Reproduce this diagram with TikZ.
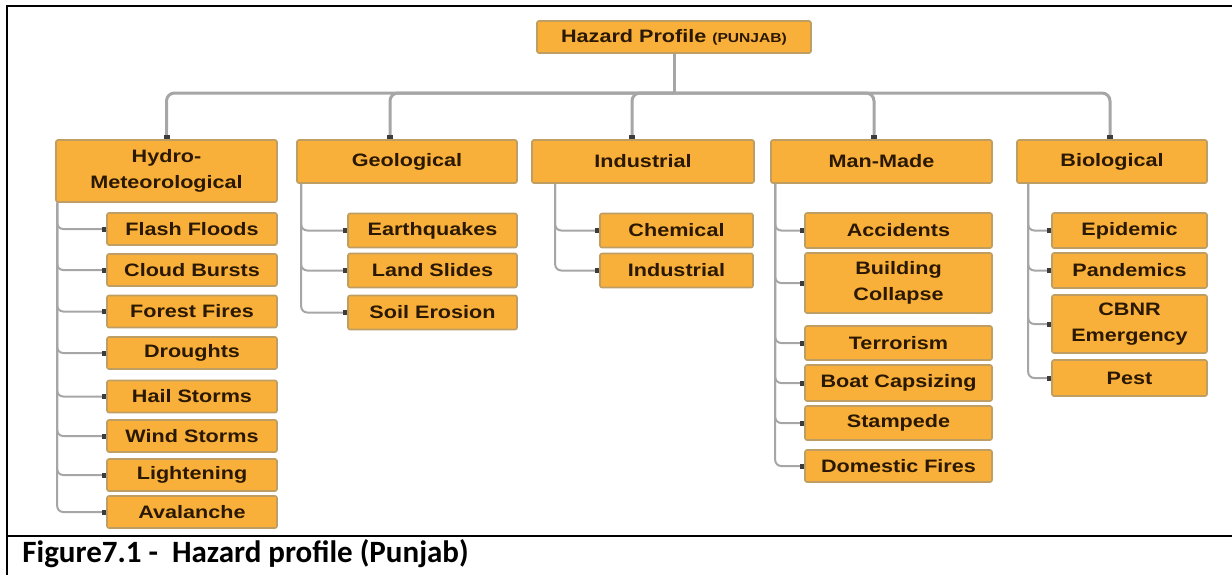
\documentclass[tikz,border=0pt]{standalone}
\usepackage{fontspec}
\setmainfont{Liberation Sans}
\newfontfamily\boxfont[FakeStretch=1.2]{Liberation Sans}
\newfontfamily\captionfont{Carlito}
\usetikzlibrary{arrows.meta}
\definecolor{boxFill}{HTML}{F9B03A}
\definecolor{boxLine}{HTML}{BE9E62}
\definecolor{boxText}{HTML}{2A1800}
\definecolor{linkGray}{HTML}{A6A6A6}
\definecolor{tipGray}{HTML}{3C3C3C}
\begin{document}
\begin{tikzpicture}[ x = 0.5pt, y = -0.5pt,
    hazardBox/.style = { shape=rectangle, rounded corners = 1pt, draw = boxLine, line width = 0.8pt, fill = boxFill, text = boxText, inner sep = 0pt, align = center, font = \boxfont\bfseries\fontsize{9}{13}\selectfont },
    busLink/.style = { draw = linkGray, line width = 1.5pt, rounded corners = 4pt, -{Square[length = 2pt, width = 3pt, color = tipGray]} },
    twigLink/.style = { draw = linkGray, line width = 1pt, rounded corners = 3pt, -{Square[length = 2pt, width = 2.5pt, color = tipGray]} } ]
            \useasboundingbox (0,0) rectangle (1232,575);
            \draw [ line width = 1pt ] (7,575) -- (7,6) -- (1232,6);
            \draw [ line width = 1pt ] (7,536) -- (1232,536);
            \node (nCaption) [ anchor = base west, inner sep = 0pt, font = \captionfont\bfseries\fontsize{15.5}{18}\selectfont ] at (22,562) {Figure7.1 -\ \ Hazard profile (Punjab)};
            \node (nRoot) [ hazardBox, minimum width = 137pt, minimum height = 16pt ] at (674,37) {Hazard Profile {\fontsize{6.5}{8}\selectfont (PUNJAB)}};
            \node (nHydro) [ hazardBox, minimum width = 110.5pt, minimum height = 31pt ] at (166.5,171) {Hydro-\\Meteorological};
            \node (nGeological) [ hazardBox, minimum width = 110pt, minimum height = 21.5pt ] at (407,161.5) {Geological};
            \node (nIndustrial) [ hazardBox, minimum width = 111pt, minimum height = 21.5pt ] at (643,161.5) {Industrial};
            \node (nManMade) [ hazardBox, minimum width = 110.5pt, minimum height = 21.5pt ] at (881.5,161.5) {Man-Made};
            \node (nBiological) [ hazardBox, minimum width = 95pt, minimum height = 21.5pt ] at (1112,161.5) {Biological};
            \coordinate (cBus) at (674,93);
            \draw [ busLink, - ] (nRoot.south) -- (cBus);
            \draw [ busLink ] (cBus) -| (nHydro.north);
            \draw [ busLink ] (cBus) -| ([xshift = -8.5pt]nGeological.north);
            \draw [ busLink ] (cBus) -| ([xshift = -5.5pt]nIndustrial.north);
            \draw [ busLink ] (cBus) -| ([xshift = -3.75pt]nManMade.north);
            \draw [ busLink ] (cBus) -| ([xshift = -1pt]nBiological.north);
            \node (nFlashFloods) [ hazardBox, minimum width = 85pt, minimum height = 16pt ] at (192,229) {Flash Floods};
            \node (nCloudBursts) [ hazardBox, minimum width = 85pt, minimum height = 16pt ] at (192,270) {Cloud Bursts};
            \node (nForestFires) [ hazardBox, minimum width = 85pt, minimum height = 16pt ] at (192,311.5) {Forest Fires};
            \node (nDroughts) [ hazardBox, minimum width = 85pt, minimum height = 16pt ] at (192,353) {Droughts};
            \node (nHailStorms) [ hazardBox, minimum width = 85pt, minimum height = 16pt ] at (192,396.5) {Hail Storms};
            \node (nWindStorms) [ hazardBox, minimum width = 85pt, minimum height = 16pt ] at (192,436) {Wind Storms};
            \node (nLightening) [ hazardBox, minimum width = 85pt, minimum height = 16pt ] at (192,475) {Lightening};
            \node (nAvalanche) [ hazardBox, minimum width = 85pt, minimum height = 16pt ] at (192,512) {Avalanche};
            \draw [ twigLink ] ([xshift = 1pt]nHydro.south west) |- (nFlashFloods.west);
            \draw [ twigLink ] ([xshift = 1pt]nHydro.south west) |- (nCloudBursts.west);
            \draw [ twigLink ] ([xshift = 1pt]nHydro.south west) |- (nForestFires.west);
            \draw [ twigLink ] ([xshift = 1pt]nHydro.south west) |- (nDroughts.west);
            \draw [ twigLink ] ([xshift = 1pt]nHydro.south west) |- (nHailStorms.west);
            \draw [ twigLink ] ([xshift = 1pt]nHydro.south west) |- (nWindStorms.west);
            \draw [ twigLink ] ([xshift = 1pt]nHydro.south west) |- (nLightening.west);
            \draw [ twigLink ] ([xshift = 1pt]nHydro.south west) |- (nAvalanche.west);
            \node (nEarthquakes) [ hazardBox, minimum width = 84.5pt, minimum height = 17pt ] at (432.5,230.5) {Earthquakes};
            \node (nLandSlides) [ hazardBox, minimum width = 84.5pt, minimum height = 17pt ] at (432.5,270.5) {Land Slides};
            \node (nSoilErosion) [ hazardBox, minimum width = 84.5pt, minimum height = 17pt ] at (432.5,312.5) {Soil Erosion};
            \draw [ twigLink ] ([xshift = 2.5pt]nGeological.south west) |- (nEarthquakes.west);
            \draw [ twigLink ] ([xshift = 2.5pt]nGeological.south west) |- (nLandSlides.west);
            \draw [ twigLink ] ([xshift = 2.5pt]nGeological.south west) |- (nSoilErosion.west);
            \node (nChemical) [ hazardBox, minimum width = 76.5pt, minimum height = 17pt ] at (676.5,230.5) {Chemical};
            \node (nIndustrialSub) [ hazardBox, minimum width = 76.5pt, minimum height = 17pt ] at (676.5,270.5) {Industrial};
            \draw [ twigLink ] ([xshift = 12pt]nIndustrial.south west) |- (nChemical.west);
            \draw [ twigLink ] ([xshift = 12pt]nIndustrial.south west) |- (nIndustrialSub.west);
            \node (nAccidents) [ hazardBox, minimum width = 93.5pt, minimum height = 17.5pt ] at (898.5,230.5) {Accidents};
            \node (nBuildingCollapse) [ hazardBox, minimum width = 93.5pt, minimum height = 30pt ] at (898.5,283) {Building\\Collapse};
            \node (nTerrorism) [ hazardBox, minimum width = 93.5pt, minimum height = 17pt ] at (898.5,343) {Terrorism};
            \node (nBoatCapsizing) [ hazardBox, minimum width = 93.5pt, minimum height = 18pt ] at (898.5,383) {Boat Capsizing};
            \node (nStampede) [ hazardBox, minimum width = 93.5pt, minimum height = 17pt ] at (898.5,423) {Stampede};
            \node (nDomesticFires) [ hazardBox, minimum width = 93.5pt, minimum height = 16pt ] at (898.5,466) {Domestic Fires};
            \draw [ twigLink ] ([xshift = 2.5pt]nManMade.south west) |- (nAccidents.west);
            \draw [ twigLink ] ([xshift = 2.5pt]nManMade.south west) |- (nBuildingCollapse.west);
            \draw [ twigLink ] ([xshift = 2.5pt]nManMade.south west) |- (nTerrorism.west);
            \draw [ twigLink ] ([xshift = 2.5pt]nManMade.south west) |- (nBoatCapsizing.west);
            \draw [ twigLink ] ([xshift = 2.5pt]nManMade.south west) |- (nStampede.west);
            \draw [ twigLink ] ([xshift = 2.5pt]nManMade.south west) |- (nDomesticFires.west);
            \node (nEpidemic) [ hazardBox, minimum width = 77.5pt, minimum height = 17.5pt ] at (1129.5,230.5) {Epidemic};
            \node (nPandemics) [ hazardBox, minimum width = 77.5pt, minimum height = 17.5pt ] at (1129.5,270.5) {Pandemics};
            \node (nCbnr) [ hazardBox, minimum width = 77.5pt, minimum height = 29pt ] at (1129.5,324) {CBNR\\Emergency};
            \node (nPest) [ hazardBox, minimum width = 77.5pt, minimum height = 18pt ] at (1129.5,378) {Pest};
            \draw [ twigLink ] ([xshift = 6pt]nBiological.south west) |- (nEpidemic.west);
            \draw [ twigLink ] ([xshift = 6pt]nBiological.south west) |- (nPandemics.west);
            \draw [ twigLink ] ([xshift = 6pt]nBiological.south west) |- (nCbnr.west);
            \draw [ twigLink ] ([xshift = 6pt]nBiological.south west) |- (nPest.west);
        \end{tikzpicture}
\end{document}
